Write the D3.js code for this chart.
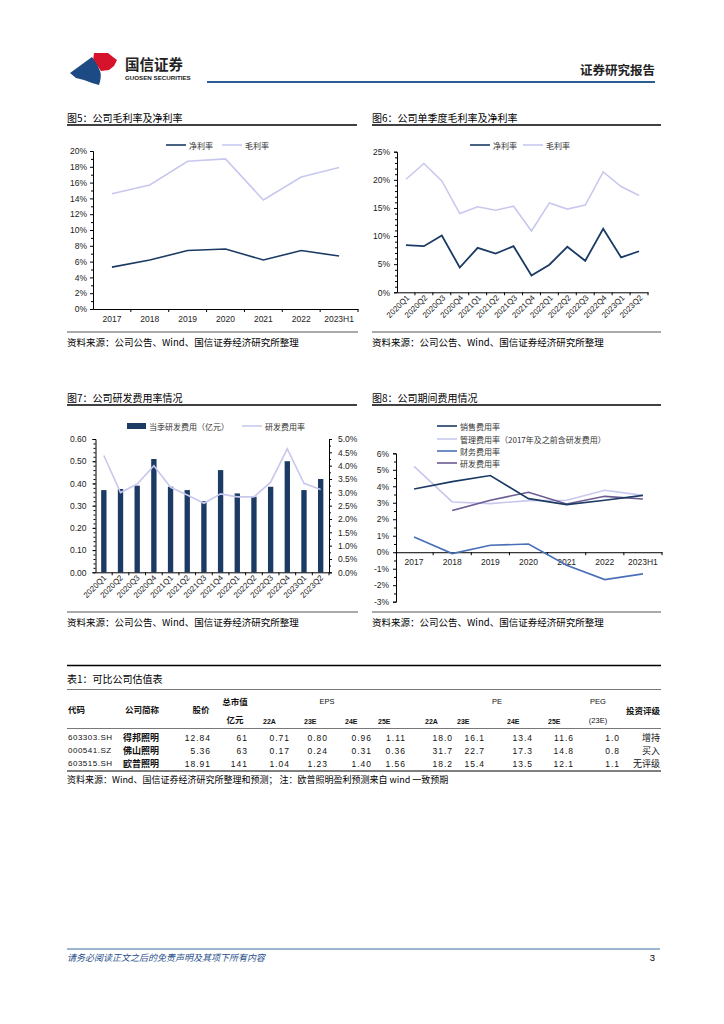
<!DOCTYPE html>
<html><head><meta charset="utf-8">
<script src="https://cdn.jsdelivr.net/npm/d3@7/dist/d3.min.js"></script>
<style>
html,body{margin:0;padding:0;background:#fff;}
svg text{font-family:"Liberation Sans","Noto Sans CJK SC",sans-serif;}
.cjk{font-family:"Noto Sans CJK SC","Liberation Sans",sans-serif;}
</style></head>
<body>
<script>
// ---------- DATA ----------
const years = ['2017','2018','2019','2020','2021','2022','2023H1'];
const netMarginAnnual = [5.3, 6.2, 7.4, 7.6, 6.2, 7.4, 6.7];
const grossMarginAnnual = [14.6, 15.7, 18.7, 19.0, 13.8, 16.7, 17.9];

const quarters = ['2020Q1','2020Q2','2020Q3','2020Q4','2021Q1','2021Q2','2021Q3','2021Q4','2022Q1','2022Q2','2022Q3','2022Q4','2023Q1','2023Q2'];
const netMarginQ = [8.4, 8.2, 10.1, 4.4, 7.9, 6.9, 8.2, 3.0, 4.9, 8.1, 5.6, 11.3, 6.2, 7.3];
const grossMarginQ = [20.1, 22.9, 19.8, 14.0, 15.2, 14.6, 15.3, 10.9, 15.9, 14.8, 15.5, 21.4, 18.8, 17.2];

const rdExpenseQ = [0.37, 0.375, 0.39, 0.51, 0.385, 0.37, 0.32, 0.46, 0.355, 0.34, 0.385, 0.50, 0.37, 0.42];
const rdRatioQ = [4.38, 2.99, 3.31, 4.0, 3.19, 2.9, 2.59, 2.94, 2.83, 2.83, 3.38, 4.63, 3.34, 3.11];

const sellingRatio = [3.84, 4.28, 4.65, 3.25, 2.89, 3.15, 3.45];
const adminRatio = [5.21, 3.05, 2.95, 3.13, 3.15, 3.76, 3.45];
const financeRatio = [0.93, -0.08, 0.42, 0.5, -0.79, -1.66, -1.31];
const rdRatioAnnual = [null, 2.53, 3.15, 3.64, 2.93, 3.39, 3.23];

const ticks1 = [0,2,4,6,8,10,12,14,16,18,20];
const ticks2 = [0,5,10,15,20,25];
const ticks3L = [0,0.1,0.2,0.3,0.4,0.5,0.6];
const ticks3R = [0,0.5,1,1.5,2,2.5,3,3.5,4,4.5,5];
const ticks4 = [-3,-2,-1,0,1,2,3,4,5,6];

const tblCodes = ['603303.SH','000541.SZ','603515.SH'];
const tblNames = ['得邦照明','佛山照明','欧普照明'];
const tblPrice = ['12.84','5.36','18.91'];
const tblCap = ['61','63','141'];
const tblEPS = [['0.71','0.80','0.96','1.11'],['0.17','0.24','0.31','0.36'],['1.04','1.23','1.40','1.56']];
const tblPE = [['18.0','16.1','13.4','11.6'],['31.7','22.7','17.3','14.8'],['18.2','15.4','13.5','12.1']];
const tblPEG = ['1.0','0.8','1.1'];
const tblRating = ['增持','买入','无评级'];
const yrCols = ['22A','23E','24E','25E'];

// ---------- DRAW ----------
const W=724,H=1024;
const svg=d3.select('body').append('svg').attr('width',W).attr('height',H);
const NAVY='#1b3a64', LAV='#c8c8ef', MBLUE='#4a6fb8', PURP='#6b5b92';

function txt(g,x,y,s,o={}){
  return g.append('text').attr('x',x).attr('y',y).text(s)
   .attr('font-size',o.size||10).attr('fill',o.fill||'#000')
   .attr('text-anchor',o.anchor||'start').attr('dominant-baseline','central')
   .attr('font-weight',o.weight||'normal')
   .attr('class',o.cls||null).attr('font-style',o.style||null)
   .attr('letter-spacing',o.ls||null);
}

// Header
const hdr=svg.append('g');
hdr.append('path').attr('d','M94,53 L108,53 L113,57 L117,60 L114,66 L109,70 L101,71 Q97,65 93,61 Z').attr('fill','#d7132b');
hdr.append('path').attr('d','M70,73 L92,57 Q97,63 100,71 Q102,76 99,85 L92,83 L84,80 L76,78 Z').attr('fill','#1d4a85');
txt(hdr,125,63.5,'国信证券',{size:14.5,weight:'bold',cls:'cjk',fill:'#222'});
txt(hdr,125,77,'GUOSEN SECURITIES',{size:6.2,weight:'bold',fill:'#222'});
hdr.append('line').attr('x1',207).attr('x2',655).attr('y1',82).attr('y2',82).attr('stroke','#2a5d91').attr('stroke-width',2);
txt(hdr,655,69,'证券研究报告',{size:12.5,weight:'bold',anchor:'end',cls:'cjk',fill:'#222'});

function section(x,y,w,title){
  txt(svg,x,y,title,{size:10,cls:'cjk'});
  svg.append('line').attr('x1',x).attr('x2',x+w).attr('y1',y+8).attr('y2',y+8).attr('stroke','#000').attr('stroke-width',1.3);
}
function source(x,y,w,s){
  svg.append('line').attr('x1',x).attr('x2',x+w).attr('y1',y).attr('y2',y).attr('stroke','#555').attr('stroke-width',1);
  txt(svg,x,y+10,s||'资料来源：公司公告、Wind、国信证券经济研究所整理',{size:9.5,cls:'cjk'});
}
section(67,117,290,'图5：公司毛利率及净利率');
section(372,117,289,'图6：公司单季度毛利率及净利率');
section(67,397,290,'图7：公司研发费用率情况');
section(372,397,289,'图8：公司期间费用情况');
source(67,332,291);
source(372,332,289);
source(67,612,291);
source(372,612,289);

function legendLine(g,x,y,color,label,w=20){
  g.append('line').attr('x1',x).attr('x2',x+w).attr('y1',y).attr('y2',y).attr('stroke',color).attr('stroke-width',1.6);
  txt(g,x+w+3,y,label,{size:8,cls:'cjk',fill:'#333'});
}
function yAxisStyle(g){
  g.select('.domain').attr('stroke','#000');
  g.selectAll('.tick line').attr('stroke','#000');
  g.selectAll('.tick text').attr('font-size',8.5).attr('fill','#222');
}

// ----- Chart 1 -----
{
  const g=svg.append('g');
  const x=d3.scaleBand().domain(years).range([93,358]);
  const y=d3.scaleLinear().domain([0,20]).range([309,151]);
  const ya=g.append('g').attr('transform','translate(93,0)')
    .call(d3.axisLeft(y).tickValues(ticks1).tickSize(3).tickPadding(3).tickFormat(d=>d+'%'));
  yAxisStyle(ya);
  g.append('g').attr('transform','translate(93,0)').call(d3.axisLeft(y).tickValues(d3.range(1,20,2)).tickSize(2).tickFormat(''))
    .call(a=>a.select('.domain').remove()).selectAll('line').attr('stroke','#000');
  const xa=g.append('g').attr('transform','translate(0,309)').call(d3.axisBottom(x).tickSize(0).tickPadding(7));
  xa.select('.domain').attr('stroke','#000');
  xa.selectAll('text').attr('font-size',8.5).attr('fill','#222');
  g.selectAll('.sep1').data(years).enter().append('line')
    .attr('x1',(d,i)=>x.range()[0]+x.step()*(i+1)).attr('x2',(d,i)=>x.range()[0]+x.step()*(i+1))
    .attr('y1',309).attr('y2',312).attr('stroke','#000');
  const line=d3.line().x((d,i)=>x(years[i])+x.bandwidth()/2).y(d=>y(d));
  g.append('path').attr('d',line(grossMarginAnnual)).attr('fill','none').attr('stroke',LAV).attr('stroke-width',1.6);
  g.append('path').attr('d',line(netMarginAnnual)).attr('fill','none').attr('stroke',NAVY).attr('stroke-width',1.6);
  legendLine(g,166,145,NAVY,'净利率');
  legendLine(g,222,145,LAV,'毛利率');
}

// ----- Chart 2 -----
{
  const g=svg.append('g');
  const x=d3.scaleBand().domain(quarters).range([397,648]);
  const y=d3.scaleLinear().domain([0,25]).range([292.3,151.7]);
  const ya=g.append('g').attr('transform','translate(397,0)')
    .call(d3.axisLeft(y).tickValues(ticks2).tickSize(3).tickPadding(4).tickFormat(d=>d+'%'));
  yAxisStyle(ya);
  g.append('g').attr('transform','translate(397,0)').call(d3.axisLeft(y).tickValues(d3.range(1,25).filter(v=>v%5)).tickSize(2).tickFormat(''))
    .call(a=>a.select('.domain').remove()).selectAll('line').attr('stroke','#000');
  const xa=g.append('g').attr('transform','translate(0,292.3)').call(d3.axisBottom(x).tickSize(0).tickPadding(0));
  xa.select('.domain').attr('stroke','#000');
  xa.selectAll('text').attr('font-size',8).attr('fill','#222').attr('text-anchor','end')
    .attr('dy','0').attr('transform','translate(4,6) rotate(-45)');
  g.selectAll('.sep2').data(quarters).enter().append('line')
    .attr('x1',(d,i)=>397+x.step()*(i+1)).attr('x2',(d,i)=>397+x.step()*(i+1))
    .attr('y1',292.3).attr('y2',295.3).attr('stroke','#000');
  const line=d3.line().x((d,i)=>x(quarters[i])+x.bandwidth()/2).y(d=>y(d));
  g.append('path').attr('d',line(grossMarginQ)).attr('fill','none').attr('stroke',LAV).attr('stroke-width',1.6);
  g.append('path').attr('d',line(netMarginQ)).attr('fill','none').attr('stroke',NAVY).attr('stroke-width',1.8);
  legendLine(g,470,145,NAVY,'净利率');
  legendLine(g,523,145,LAV,'毛利率');
}

// ----- Chart 3 -----
{
  const g=svg.append('g');
  const x=d3.scaleBand().domain(quarters).range([95.5,329]).paddingInner(0.68).paddingOuter(0.34);
  const yL=d3.scaleLinear().domain([0,0.6]).range([572.3,439]);
  const yR=d3.scaleLinear().domain([0,5]).range([572.3,439]);
  const ya=g.append('g').attr('transform','translate(95.5,0)')
    .call(d3.axisLeft(yL).tickValues(ticks3L).tickSize(3).tickPadding(6).tickFormat(d3.format('.2f')));
  yAxisStyle(ya);
  g.append('g').attr('transform','translate(95.5,0)').call(d3.axisLeft(yL).tickValues(d3.range(0.02,0.6,0.02)).tickSize(2).tickFormat(''))
    .call(a=>a.select('.domain').remove()).selectAll('line').attr('stroke','#000');
  const yr=g.append('g').attr('transform','translate(329,0)')
    .call(d3.axisRight(yR).tickValues(ticks3R).tickSize(3).tickPadding(6).tickFormat(d=>d.toFixed(1)+'%'));
  yAxisStyle(yr);
  g.append('g').attr('transform','translate(329,0)').call(d3.axisRight(yR).tickValues(d3.range(0.25,5,0.5)).tickSize(2).tickFormat(''))
    .call(a=>a.select('.domain').remove()).selectAll('line').attr('stroke','#000');
  g.selectAll('rect.bar').data(rdExpenseQ).enter().append('rect')
    .attr('x',(d,i)=>x(quarters[i])).attr('width',x.bandwidth())
    .attr('y',d=>yL(d)).attr('height',d=>572.3-yL(d)).attr('fill',NAVY);
  const xa=g.append('g').attr('transform','translate(0,572.3)').call(d3.axisBottom(x).tickSize(0).tickPadding(0));
  xa.select('.domain').attr('stroke','#000');
  xa.selectAll('text').attr('font-size',8).attr('fill','#222').attr('text-anchor','end')
    .attr('dy','0').attr('transform','translate(3,6) rotate(-45)');
  const st=(329-95.5)/quarters.length;
  g.selectAll('.sep3').data(quarters).enter().append('line')
    .attr('x1',(d,i)=>95.5+st*(i+1)).attr('x2',(d,i)=>95.5+st*(i+1))
    .attr('y1',572.3).attr('y2',575.3).attr('stroke','#000');
  const line=d3.line().x((d,i)=>x(quarters[i])+x.bandwidth()/2).y(d=>yR(d));
  g.append('path').attr('d',line(rdRatioQ)).attr('fill','none').attr('stroke',LAV).attr('stroke-width',1.6);
  g.append('rect').attr('x',127).attr('y',423).attr('width',19).attr('height',6).attr('fill',NAVY);
  txt(g,149,426,'当季研发费用（亿元）',{size:8,cls:'cjk',fill:'#333'});
  legendLine(g,242,426,LAV,'研发费用率');
}

// ----- Chart 4 -----
{
  const g=svg.append('g');
  const x=d3.scaleBand().domain(years).range([395,662]);
  const y=d3.scaleLinear().domain([-3,6]).range([601.7,453.3]);
  const ya=g.append('g').attr('transform','translate(396,0)')
    .call(d3.axisLeft(y).tickValues(ticks4).tickSize(3).tickPadding(4).tickFormat(d=>d+'%'));
  yAxisStyle(ya);
  g.append('g').attr('transform','translate(396,0)').call(d3.axisLeft(y).tickValues(d3.range(-2.5,6,1)).tickSize(2).tickFormat(''))
    .call(a=>a.select('.domain').remove()).selectAll('line').attr('stroke','#000');
  const xa=g.append('g').attr('transform','translate(0,'+y(0)+')').call(d3.axisBottom(x).tickSize(0).tickPadding(7));
  xa.select('.domain').attr('stroke','#000');
  xa.selectAll('text').attr('font-size',8.5).attr('fill','#222');
  g.selectAll('.sep4').data(years).enter().append('line')
    .attr('x1',(d,i)=>395+x.step()*(i+1)).attr('x2',(d,i)=>395+x.step()*(i+1))
    .attr('y1',y(0)).attr('y2',y(0)+3).attr('stroke','#000');
  const line=d3.line().defined(d=>d!=null).x((d,i)=>x(years[i])+x.bandwidth()/2).y(d=>y(d));
  g.append('path').attr('d',line(adminRatio)).attr('fill','none').attr('stroke',LAV).attr('stroke-width',1.6);
  g.append('path').attr('d',line(rdRatioAnnual)).attr('fill','none').attr('stroke',PURP).attr('stroke-width',1.6);
  g.append('path').attr('d',line(sellingRatio)).attr('fill','none').attr('stroke',NAVY).attr('stroke-width',1.6);
  g.append('path').attr('d',line(financeRatio)).attr('fill','none').attr('stroke',MBLUE).attr('stroke-width',1.6);
  legendLine(g,437,426,NAVY,'销售费用率');
  legendLine(g,437,439,LAV,'管理费用率（2017年及之前含研发费用）');
  legendLine(g,437,451,MBLUE,'财务费用率');
  legendLine(g,437,463,PURP,'研发费用率');
}

// ----- Table -----
{
  const g=svg.append('g');
  const L=67,R=661;
  g.append('line').attr('x1',L).attr('x2',R).attr('y1',665.5).attr('y2',665.5).attr('stroke','#000').attr('stroke-width',1.3);
  txt(g,L,678,'表1：可比公司估值表',{size:10,cls:'cjk'});
  g.append('line').attr('x1',L).attr('x2',R).attr('y1',689.5).attr('y2',689.5).attr('stroke','#555').attr('stroke-width',0.8);
  const hs={size:8.5,weight:'bold',cls:'cjk',fill:'#111'};
  txt(g,68,709,'代码',hs);
  txt(g,142,709,'公司简称',Object.assign({anchor:'middle'},hs));
  txt(g,201,709,'股价',Object.assign({anchor:'middle'},hs));
  txt(g,235,701,'总市值',Object.assign({anchor:'middle'},hs));
  txt(g,235,718.5,'亿元',Object.assign({anchor:'middle'},hs));
  txt(g,327,701,'EPS',{size:7.5,anchor:'middle',fill:'#111'});
  txt(g,497,701,'PE',{size:7.5,anchor:'middle',fill:'#111'});
  txt(g,598,701,'PEG',{size:7.5,anchor:'middle',fill:'#111'});
  txt(g,598,720,'(23E)',{size:7.5,anchor:'middle',fill:'#111'});
  txt(g,660,710,'投资评级',Object.assign({anchor:'end'},hs));
  const subX=[263,304,345,378,425,457,507,548];
  const epsR=[290,328,372,406], peR=[453,485,533,574];
  subX.forEach((sx,i)=>txt(g,sx,721,yrCols[i%4],{size:7,weight:'bold',fill:'#111'}));
  g.append('line').attr('x1',L).attr('x2',R).attr('y1',728.5).attr('y2',728.5).attr('stroke','#555').attr('stroke-width',0.8);
  const rowsY=[737.5,750.5,763.5];
  const ds={size:8.5,fill:'#111',ls:1};
  rowsY.forEach((ry,i)=>{
    txt(g,68,ry,tblCodes[i],{size:8,fill:'#111',ls:0.5});
    txt(g,123,ry,tblNames[i],{size:9,weight:'bold',cls:'cjk',fill:'#111'});
    txt(g,211,ry,tblPrice[i],Object.assign({anchor:'end'},ds));
    txt(g,248,ry,tblCap[i],Object.assign({anchor:'end'},ds));
    tblEPS[i].forEach((v,j)=>txt(g,epsR[j],ry,v,Object.assign({anchor:'end'},ds)));
    tblPE[i].forEach((v,j)=>txt(g,peR[j],ry,v,Object.assign({anchor:'end'},ds)));
    txt(g,620,ry,tblPEG[i],Object.assign({anchor:'end'},ds));
    txt(g,660,ry,tblRating[i],{size:9,anchor:'end',cls:'cjk',fill:'#111'});
  });
  g.append('line').attr('x1',L).attr('x2',R).attr('y1',771).attr('y2',771).attr('stroke','#000').attr('stroke-width',1.2);
  txt(g,L,779,'资料来源：Wind、国信证券经济研究所整理和预测；  注：欧普照明盈利预测来自 wind 一致预期',{size:9,cls:'cjk'});
}

// Footer
svg.append('line').attr('x1',67).attr('x2',660).attr('y1',949).attr('y2',949).attr('stroke','#3d6ea3').attr('stroke-width',1);
txt(svg,67,957,'请务必阅读正文之后的免责声明及其项下所有内容',{size:9,cls:'cjk',fill:'#1f4f8a',style:'italic'});
txt(svg,655,957,'3',{size:9.5,anchor:'end'});
</script>
</body></html>
